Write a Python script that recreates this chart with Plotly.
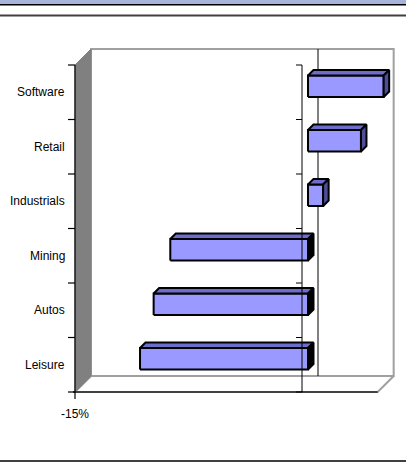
import plotly.graph_objects as go

# ---------------- data ----------------
categories = ["Leisure", "Autos", "Mining", "Industrials", "Retail", "Software"]
values = [-11.1, -10.2, -9.1, 1.0, 3.5, 5.0]
x_tick_vals = [-15]
x_tick_labels = ["-15%"]
x_min, x_max = -15, 5

# ---------------- geometry / style ----------------
W, H = 406, 462
KX = 227 / 15.0          # px per % on the front plane
KY = 327 / 6.0           # px per category band
X0PX, Y0PX = 302, 392    # pixel position of (0%, bottom of first band)
N = len(categories)


def ux(p):
    return p / KX


def uy(p):
    return p / KY


DX, DY = ux(16), uy(16)          # full depth of the 3-D box
F1X, F1Y = ux(6), uy(6)          # bar front face depth
BDX, BDY = ux(5.5), uy(5.5)      # bar depth
BH = uy(21.5)                    # bar thickness

FRONT = "#9999FF"
TOP = "#6D6DCC"
SIDE_POS = "#4D4D99"
SIDE_NEG = "#000000"
WALL = "#808080"
EDGE = "#A0A0A0"

fig = go.Figure()


def poly(xs, ys, fill, line_color, lw):
    fig.add_trace(go.Scatter(
        x=list(xs) + [xs[0]], y=list(ys) + [ys[0]],
        mode="lines", fill="toself", fillcolor=fill,
        line=dict(color=line_color, width=lw),
        hoverinfo="skip", showlegend=False))


def seg(xs, ys, color, lw):
    fig.add_trace(go.Scatter(
        x=xs, y=ys, mode="lines", line=dict(color=color, width=lw),
        hoverinfo="skip", showlegend=False, connectgaps=False))


# back wall
poly([x_min + DX, x_max + DX, x_max + DX, x_min + DX],
     [DY, DY, N + DY, N + DY], "white", EDGE, 2)
# floor
poly([x_min, x_max, x_max + DX, x_min + DX],
     [0, 0, DY, DY], "white", EDGE, 2)
# left wall
poly([x_min, x_min, x_min + DX, x_min + DX],
     [0, N, N + DY, DY], WALL, WALL, 1)
# floor front edge
seg([x_min - ux(2), x_max], [0, 0], "#404040", 2)
# left front edge with ticks
lx, ly = [x_min, x_min], [-uy(7), N]
for i in range(N + 1):
    lx += [None, x_min - ux(7), x_min]
    ly += [None, i, i]
seg(lx, ly, "#000000", 1.2)
# back zero line
seg([DX, DX], [DY, N + DY], "#000000", 1)

# bars
for i, v in enumerate(values):
    lo, hi = min(0, v), max(0, v)
    c = i + 0.5 + F1Y
    x0, x1 = lo + F1X, hi + F1X
    yb, yt = c - BH / 2, c + BH / 2
    # front face
    poly([x0, x1, x1, x0], [yb, yb, yt, yt], FRONT, "#000000", 2)
    # top face
    poly([x0, x1, x1 + BDX, x0 + BDX], [yt, yt, yt + BDY, yt + BDY],
         TOP, "#000000", 2)
    # side face
    poly([x1, x1 + BDX, x1 + BDX, x1], [yb, yb + BDY, yt + BDY, yt],
         SIDE_POS if v > 0 else SIDE_NEG, "#000000", 2)

# front value-zero axis with ticks
ax, ay = [0, 0], [0, N]
for i in range(N + 1):
    ax += [None, -ux(6), 0]
    ay += [None, i, i]
seg(ax, ay, "#000000", 1)

# category labels
for i, name in enumerate(categories):
    fig.add_annotation(x=x_min, y=i + 0.5, text=name, showarrow=False,
                       xanchor="right", yanchor="middle", xshift=-8,
                       font=dict(family="Liberation Sans, Arial", size=12,
                                 color="#000000"))
# value tick labels
for v, t in zip(x_tick_vals, x_tick_labels):
    fig.add_annotation(x=v, y=0, text=t, showarrow=False,
                       xanchor="center", yanchor="middle", yshift=-22,
                       font=dict(family="Liberation Sans, Arial", size=12,
                                 color="#000000"))


def py(p):
    return 1 - p / H


shapes = [
    dict(type="rect", xref="paper", yref="paper", x0=0, x1=1,
         y0=py(4), y1=1, fillcolor="#A7B3DB", line=dict(width=0)),
    dict(type="line", xref="paper", yref="paper", x0=0, x1=1,
         y0=py(4.8), y1=py(4.8), line=dict(color="#000000", width=1.6)),
    dict(type="line", xref="paper", yref="paper", x0=0, x1=1,
         y0=py(15.5), y1=py(15.5), line=dict(color="#404040", width=2)),
    dict(type="line", xref="paper", yref="paper", x0=0, x1=1,
         y0=py(461), y1=py(461), line=dict(color="#404040", width=2)),
]

fig.update_layout(
    width=W, height=H, autosize=False,
    margin=dict(l=0, r=0, t=0, b=0, pad=0),
    paper_bgcolor="white", plot_bgcolor="white",
    xaxis=dict(range=[-X0PX / KX, (W - X0PX) / KX], visible=False,
               fixedrange=True),
    yaxis=dict(range=[-(H - Y0PX) / KY, Y0PX / KY], visible=False,
               fixedrange=True),
    shapes=shapes,
    showlegend=False,
)

fig.write_html("out.html")
